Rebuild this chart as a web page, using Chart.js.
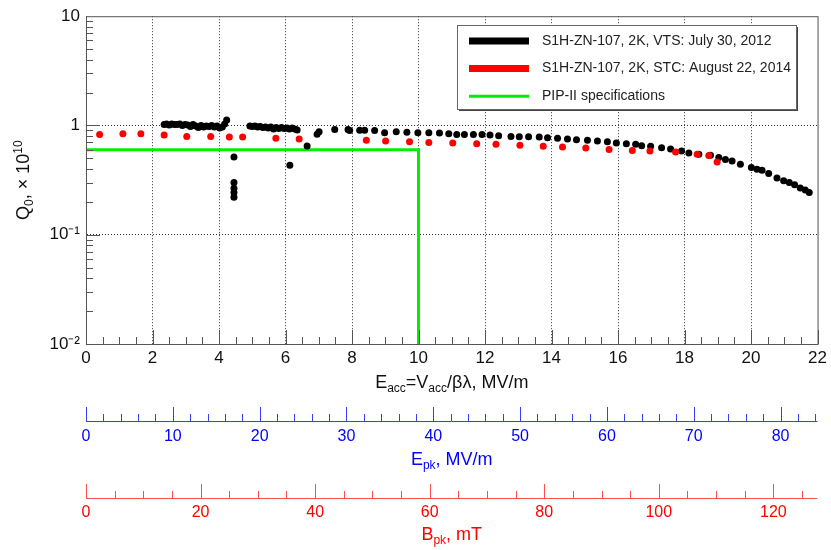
<!DOCTYPE html>
<html>
<head>
<meta charset="utf-8">
<script src="https://cdn.jsdelivr.net/npm/chart.js@4.4.1/dist/chart.umd.min.js"></script>
<style>
  html, body { margin: 0; padding: 0; background: #fff; }
  #wrap { width: 831px; height: 550px; }
</style>
</head>
<body>
<div id="wrap"><canvas id="q0-canvas" width="831" height="550"></canvas></div>
<script>
const FONT = "'Liberation Sans', Arial, Helvetica, sans-serif"

// S1H-ZN-107, vertical test, July 30 2012 (black)
const vtsEacc = [
  2.35, 2.42, 2.50, 2.58, 2.66, 2.74, 2.82, 2.90, 2.98, 3.06, 3.14, 3.22, 3.30,
  3.38, 3.46, 3.54, 3.62, 3.70, 3.78, 3.86, 3.94, 4.02, 4.10, 4.17, 4.23,
  4.45, 4.45, 4.45, 4.45, 4.45,
  4.93, 5.00, 5.08, 5.16, 5.24, 5.32, 5.40, 5.48, 5.56, 5.64, 5.72, 5.80,
  5.88, 5.96, 6.04, 6.12, 6.20, 6.28, 6.35, 6.13, 6.65,
  6.95, 7.01, 7.48, 7.88, 7.93, 8.23, 8.38, 8.68, 8.98, 9.33, 9.65, 9.98,
  10.31, 10.63, 10.91, 11.15, 11.38, 11.65, 11.91, 12.15, 12.41, 12.78, 13.03,
  13.31, 13.63, 13.88, 14.18, 14.48, 14.75, 15.08, 15.38, 15.68, 15.95, 16.25,
  16.53, 16.71, 16.98, 17.31, 17.58, 17.91, 18.13, 18.43, 18.78, 19.03, 19.23,
  19.43, 19.68, 20.01, 20.18, 20.33, 20.53, 20.78, 20.98, 21.15, 21.31, 21.48,
  21.63, 21.75
]
const vtsQ0 = [
  1.02, 1.03, 1.01, 1.03, 1.02, 1.02, 1.03, 1.00, 1.02, 1.01, 0.98, 1.02, 0.99,
  0.96, 1.00, 0.97, 0.99, 0.98, 1.00, 0.97, 0.99, 0.95, 0.97, 1.03, 1.12,
  0.515, 0.30, 0.267, 0.244, 0.22,
  0.99, 0.98, 0.99, 0.97, 0.98, 0.96, 0.97, 0.95, 0.97, 0.93, 0.96, 0.94,
  0.96, 0.94, 0.95, 0.93, 0.95, 0.93, 0.91, 0.433, 0.648,
  0.83, 0.875, 0.92, 0.92, 0.90, 0.905, 0.905, 0.90, 0.857, 0.875, 0.869, 0.857,
  0.857, 0.851, 0.839, 0.828, 0.828, 0.828, 0.828, 0.816, 0.804, 0.794, 0.788,
  0.788, 0.783, 0.771, 0.762, 0.751, 0.740, 0.731, 0.720, 0.710, 0.690, 0.680,
  0.672, 0.653, 0.644, 0.626, 0.609, 0.584, 0.560, 0.545, 0.534, 0.508, 0.487,
  0.474, 0.442, 0.412, 0.398, 0.390, 0.363, 0.330, 0.312, 0.301, 0.287, 0.268,
  0.257, 0.244
]

// S1H-ZN-107, cryomodule test stand, August 22 2014 (red)
const stcEacc = [
  0.41, 1.11, 1.65, 2.35, 3.03, 3.75, 4.31, 4.71, 5.71, 6.41, 8.43, 9.01, 9.73,
  10.31, 11.03, 11.75, 12.33, 13.05, 13.75, 14.33, 15.03, 15.73, 16.43, 16.96,
  17.73, 18.38, 18.73, 18.98
]
const stcQ0 = [
  0.828, 0.839, 0.839, 0.816, 0.794, 0.794, 0.783, 0.783, 0.762, 0.751, 0.731,
  0.720, 0.710, 0.700, 0.690, 0.680, 0.672, 0.658, 0.644, 0.635, 0.621, 0.603,
  0.590, 0.584, 0.572, 0.545, 0.532, 0.464
]

// PIP-II specification: Q0 = 0.6e10 up to Eacc = 10 MV/m
const specEacc = [0, 10, 10]
const specQ0 = [0.6, 0.6, 0.01]

const eaccTicks = [0, 2, 4, 6, 8, 10, 12, 14, 16, 18, 20, 22]
const epkTicks = [0, 10, 20, 30, 40, 50, 60, 70, 80]
const bpkTicks = [0, 20, 40, 60, 80, 100, 120]
const q0Ticks = [0.01, 0.1, 1, 10]
const q0TickLabels = ['10⁻²', '10⁻¹', '1', '10']

const EACC_MAX = 22
const EPK_PER_EACC = 3.83
const BPK_PER_EACC = 5.805

const toPoints = (xs, ys) => xs.map((x, i) => ({ x, y: ys[i] }))
const setTicks = (values) => (scale) => {
  scale.ticks = values.map((value) => ({ value }))
}

// text with sub/superscript pieces, centred on (cx, cy)
function drawRich(ctx, parts, cx, cy, size, color) {
  const small = Math.round(size * 0.68)
  const fontOf = (p) => `${p.sub || p.sup ? small : size}px ${FONT}`
  let total = 0
  parts.forEach((p) => {
    ctx.font = fontOf(p)
    total += ctx.measureText(p.t).width
  })
  let x = cx - total / 2
  ctx.fillStyle = color
  ctx.textAlign = 'left'
  ctx.textBaseline = 'middle'
  parts.forEach((p) => {
    ctx.font = fontOf(p)
    const dy = p.sub ? size * 0.32 : p.sup ? -size * 0.32 : 0
    ctx.fillText(p.t, x, cy + dy)
    x += ctx.measureText(p.t).width
  })
}

// ROOT style axis: line plus inward ticks, long ones on the labelled values
function drawAxisTicks(ctx, scale, y0, minorStep, majorStep, color, withLine) {
  ctx.strokeStyle = color
  ctx.lineWidth = 1
  ctx.beginPath()
  if (withLine) {
    ctx.moveTo(scale.left, y0 + 0.5)
    ctx.lineTo(scale.right, y0 + 0.5)
  }
  const n = Math.floor((scale.max - scale.min) / minorStep + 1e-6)
  for (let i = 0; i <= n; i++) {
    const v = scale.min + i * minorStep
    const r = v / majorStep
    const isMajor = Math.abs(r - Math.round(r)) < 1e-6
    const x = Math.round(scale.getPixelForValue(v)) + 0.5
    ctx.moveTo(x, y0)
    ctx.lineTo(x, y0 - (isMajor ? 14 : 7))
  }
  ctx.stroke()
}

function drawLogTicks(ctx, scale, x0) {
  ctx.strokeStyle = '#555'
  ctx.lineWidth = 1
  ctx.beginPath()
  for (let d = -2; d <= 0; d++) {
    for (let m = 1; m <= 9; m++) {
      const y = Math.round(scale.getPixelForValue(m * Math.pow(10, d))) + 0.5
      ctx.moveTo(x0, y)
      ctx.lineTo(x0 + (m === 1 ? 14 : 7), y)
    }
  }
  ctx.stroke()
}

const rootStyle = {
  id: 'rootStyle',
  afterDraw(chart) {
    const { ctx, chartArea: area, scales } = chart
    ctx.save()

    ctx.strokeStyle = '#555'
    ctx.lineWidth = 1
    ctx.strokeRect(area.left + 0.5, area.top + 0.5, area.right - area.left, area.bottom - area.top)
    drawAxisTicks(ctx, scales.x, area.bottom, 0.5, 2, '#555', false)
    drawAxisTicks(ctx, scales.epk, scales.epk.top, 2, 10, '#3c3cff', true)
    drawAxisTicks(ctx, scales.bpk, scales.bpk.top, 5, 20, '#ff5050', true)
    drawLogTicks(ctx, scales.y, area.left)

    // legend box in the upper right corner
    const box = { left: 457, top: 25, right: 796, bottom: 109 }
    ctx.fillStyle = '#444'
    ctx.fillRect(box.left + 2, box.top + 2, box.right - box.left, box.bottom - box.top)
    ctx.fillStyle = '#fff'
    ctx.fillRect(box.left, box.top, box.right - box.left, box.bottom - box.top)
    ctx.strokeStyle = '#666'
    ctx.strokeRect(box.left + 0.5, box.top + 0.5, box.right - box.left, box.bottom - box.top)
    chart.data.datasets.forEach((ds, i) => {
      const y = box.top + 16 + i * 27.6
      ctx.strokeStyle = ds.showLine ? ds.borderColor : ds.backgroundColor
      ctx.lineWidth = ds.showLine ? ds.borderWidth : ds.pointRadius * 2
      ctx.beginPath()
      ctx.moveTo(469, y)
      ctx.lineTo(529, y)
      ctx.stroke()
      ctx.fillStyle = '#222'
      ctx.font = `14px ${FONT}`
      ctx.textAlign = 'left'
      ctx.textBaseline = 'middle'
      ctx.fillText(ds.label, 542, y)
    })

    // axis titles
    const midX = (area.left + area.right) / 2
    drawRich(ctx, [{ t: 'E' }, { t: 'acc', sub: 1 }, { t: '=V' }, { t: 'acc', sub: 1 }, { t: '/βλ, MV/m' }],
      midX, scales.x.top + 39, 18, '#111')
    drawRich(ctx, [{ t: 'E' }, { t: 'pk', sub: 1 }, { t: ', MV/m' }],
      midX, scales.epk.top + 39, 18, 'blue')
    drawRich(ctx, [{ t: 'B' }, { t: 'pk', sub: 1 }, { t: ', mT' }],
      midX, scales.bpk.top + 37, 18, 'red')
    ctx.save()
    ctx.translate(24, (area.top + area.bottom) / 2)
    ctx.rotate(-Math.PI / 2)
    drawRich(ctx, [{ t: 'Q' }, { t: '0', sub: 1 }, { t: ', × 10' }, { t: '10', sup: 1 }], 0, 0, 18, '#111')
    ctx.restore()

    ctx.restore()
  }
}

const isInner = (tick, lo, hi) => tick && tick.value > lo && tick.value < hi

new Chart(document.getElementById('q0-canvas'), {
  type: 'scatter',
  data: {
    datasets: [
      {
        label: 'S1H-ZN-107, 2K, VTS: July 30, 2012',
        data: toPoints(vtsEacc, vtsQ0),
        backgroundColor: '#000',
        borderWidth: 0,
        pointRadius: 3.5,
        order: 1
      },
      {
        label: 'S1H-ZN-107, 2K, STC: August 22, 2014',
        data: toPoints(stcEacc, stcQ0),
        backgroundColor: '#ff0000',
        borderWidth: 0,
        pointRadius: 3.5,
        order: 0
      },
      {
        label: 'PIP-II specifications',
        data: toPoints(specEacc, specQ0),
        showLine: true,
        borderColor: '#00ee00',
        borderWidth: 3,
        pointRadius: 0,
        order: 2
      }
    ]
  },
  options: {
    responsive: false,
    animation: false,
    events: [],
    layout: { padding: { left: 0, right: 11, top: 14, bottom: 0 } },
    plugins: { legend: { display: false }, tooltip: { enabled: false } },
    scales: {
      x: {
        type: 'linear',
        position: 'bottom',
        weight: 0,
        min: 0,
        max: EACC_MAX,
        afterBuildTicks: setTicks(eaccTicks),
        afterFit: (s) => { s.height = 77 },
        ticks: { color: '#111', font: { family: FONT, size: 17 }, padding: 4, maxRotation: 0, autoSkip: false },
        grid: { drawTicks: false, color: (c) => (isInner(c.tick, 0, EACC_MAX) ? '#333' : 'transparent') },
        border: { color: '#555', dash: [1, 2] }
      },
      epk: {
        type: 'linear',
        position: 'bottom',
        weight: 1,
        min: 0,
        max: EACC_MAX * EPK_PER_EACC,
        afterBuildTicks: setTicks(epkTicks),
        afterFit: (s) => { s.height = 77 },
        ticks: { color: 'blue', font: { family: FONT, size: 16 }, padding: 6, maxRotation: 0, autoSkip: false },
        grid: { display: false, drawTicks: false },
        border: { display: false }
      },
      bpk: {
        type: 'linear',
        position: 'bottom',
        weight: 2,
        min: 0,
        max: EACC_MAX * BPK_PER_EACC,
        afterBuildTicks: setTicks(bpkTicks),
        afterFit: (s) => { s.height = 52 },
        ticks: { color: 'red', font: { family: FONT, size: 16 }, padding: 5, maxRotation: 0, autoSkip: false },
        grid: { display: false, drawTicks: false },
        border: { display: false }
      },
      y: {
        type: 'logarithmic',
        position: 'left',
        min: 0.01,
        max: 10,
        afterBuildTicks: setTicks(q0Ticks),
        afterFit: (s) => { s.width = 86 },
        ticks: {
          color: '#111',
          font: { family: FONT, size: 17 },
          padding: 6,
          autoSkip: false,
          callback: (value) => q0TickLabels[q0Ticks.indexOf(value)]
        },
        grid: { drawTicks: false, color: (c) => (isInner(c.tick, 0.01, 10) ? '#333' : 'transparent') },
        border: { color: '#555', dash: [1, 2] }
      }
    }
  },
  plugins: [rootStyle]
})
</script>
</body>
</html>
